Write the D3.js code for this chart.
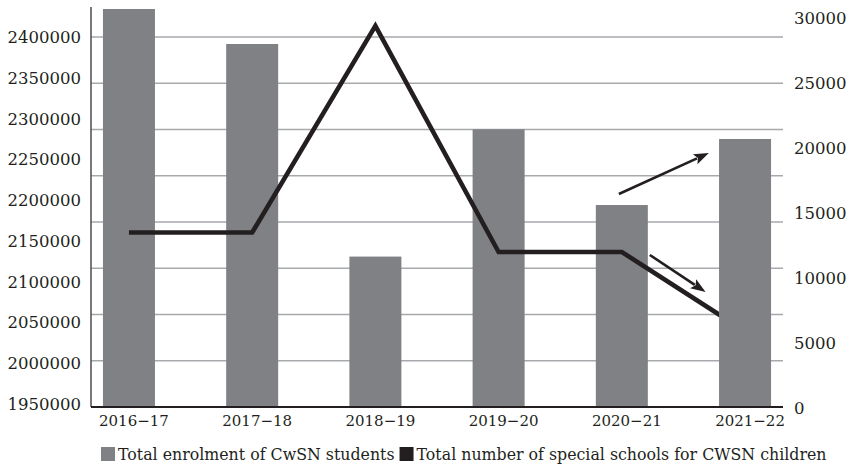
<!DOCTYPE html>
<html>
<head>
<meta charset="utf-8">
<script src="https://cdn.jsdelivr.net/npm/d3@7/dist/d3.min.js"></script>
<style>
  html, body { margin: 0; padding: 0; background: #fff; }
  svg { display: block; }
  text { font-family: "DejaVu Serif", "Liberation Serif", serif; fill: #231f20; }
</style>
</head>
<body>
<svg id="chart" width="850" height="466"></svg>
<script>
// School years on the x axis
const categories = ["2016\u221217", "2017\u221218", "2018\u221219", "2019\u221220", "2020\u221221", "2021\u221222"];
// Total enrolment of CwSN students (left axis)
const enrolment = [2435000, 2392000, 2131000, 2287300, 2194300, 2275400];
// Total number of special schools for CWSN children (right axis)
const specialSchools = [13500, 13500, 29400, 12000, 12000, 5900];
// Axis tick labels
const leftTicks = [1950000, 2000000, 2050000, 2100000, 2150000, 2200000, 2250000, 2300000, 2350000, 2400000];
const rightTicks = [0, 5000, 10000, 15000, 20000, 25000, 30000];
// Horizontal grid divisions
const gridDivisions = [0, 1, 2, 3, 4, 5, 6, 7, 8];
// Trend arrows: [category position, special-school count]
const trendArrows = [
  { from: [3.976, 16460], to: [4.706, 19615] },
  { from: [4.227, 11770], to: [4.680, 8923] }
];
const legendItems = [
  { label: "Total enrolment of CwSN students", color: "#808184" },
  { label: "Total number of special schools for CWSN children", color: "#231f20" }
];

const svg = d3.select("#chart");
const margin = { top: 7, left: 91, right: 67, bottom: 59 };
const W = 850, H = 466;
const innerW = W - margin.left - margin.right;   // 692
const innerH = H - margin.top - margin.bottom;   // 400

const g = svg.append("g").attr("transform", `translate(${margin.left},${margin.top})`);

const x = d3.scaleBand().domain(categories).range([0, innerW])
  .paddingInner(0.578).paddingOuter(0.097);
const xc = i => x(categories[0]) + x.bandwidth() / 2 + i * x.step();

const yLeft = d3.scaleLinear().domain([1950000, 2400000]).range([397, 30.5]);
const yRight = d3.scaleLinear().domain([0, 30000]).range([401, 11]);
const yGrid = d3.scaleLinear().domain([0, 8]).range([innerH, 30]);

// gridlines
g.append("g").selectAll("line").data(gridDivisions.slice(1)).join("line")
  .attr("x1", 0).attr("x2", innerW)
  .attr("y1", d => yGrid(d)).attr("y2", d => yGrid(d))
  .attr("stroke", "#a7a9ac").attr("stroke-width", 1.4);

// bars, line, with the latest year's bar in front
const marks = g.append("g");
marks.selectAll("rect.bar").data(enrolment).join("rect")
  .attr("class", "bar")
  .attr("x", (d, i) => x(categories[i]))
  .attr("width", x.bandwidth())
  .attr("y", d => yLeft(d))
  .attr("height", d => innerH - yLeft(d))
  .attr("fill", "#808184");

const line = d3.line()
  .x((d, i) => x(categories[i]) + x.bandwidth() / 2)
  .y(d => yRight(d));
marks.append("path")
  .attr("d", line(specialSchools))
  .attr("fill", "none")
  .attr("stroke", "#231f20")
  .attr("stroke-width", 4.6)
  .attr("stroke-linejoin", "miter");

marks.selectAll("rect.bar").filter((d, i) => i === categories.length - 1).raise();

// trend arrows
const arrows = g.append("g");
trendArrows.forEach(a => {
  const x1 = xc(a.from[0]), y1 = yRight(a.from[1]);
  const x2 = xc(a.to[0]), y2 = yRight(a.to[1]);
  const ang = Math.atan2(y2 - y1, x2 - x1);
  const headLen = 15, headHalf = 5.5;
  const bx = x2 - headLen * Math.cos(ang), by = y2 - headLen * Math.sin(ang);
  arrows.append("line")
    .attr("x1", x1).attr("y1", y1).attr("x2", bx + 2 * Math.cos(ang)).attr("y2", by + 2 * Math.sin(ang))
    .attr("stroke", "#231f20").attr("stroke-width", 2.6);
  const px = -Math.sin(ang), py = Math.cos(ang);
  arrows.append("path")
    .attr("d", `M${x2},${y2}L${bx + headHalf * px},${by + headHalf * py}L${bx + 3 * Math.cos(ang)},${by + 3 * Math.sin(ang)}L${bx - headHalf * px},${by - headHalf * py}Z`)
    .attr("fill", "#231f20");
});

// axes
const fmt = d3.format("d");
const axisL = g.append("g").call(d3.axisLeft(yLeft).tickValues(leftTicks).tickFormat(fmt).tickSize(0).tickPadding(10));
axisL.select(".domain").remove();
axisL.selectAll("text").style("font-size", "16.5px").attr("fill", "#231f20");

const axisR = g.append("g").attr("transform", `translate(${innerW},0)`)
  .call(d3.axisRight(yRight).tickValues(rightTicks).tickFormat(fmt).tickSize(0).tickPadding(11));
axisR.select(".domain").remove();
axisR.selectAll("text").style("font-size", "16.5px").attr("fill", "#231f20");

const axisB = g.append("g").attr("transform", `translate(0,${innerH})`)
  .call(d3.axisBottom(x).tickSize(0).tickPadding(8));
axisB.select(".domain").remove();
axisB.selectAll("text").attr("dx", 5).style("font-size", "15px").attr("fill", "#231f20");

g.append("line").attr("x1", 0).attr("x2", 0).attr("y1", 0).attr("y2", innerH)
  .attr("stroke", "#4d4d4f").attr("stroke-width", 1.5);
g.append("line").attr("x1", 0).attr("x2", innerW).attr("y1", innerH).attr("y2", innerH)
  .attr("stroke", "#231f20").attr("stroke-width", 1.8);

// legend
const legend = svg.append("g").attr("transform", "translate(101,447)");
let lx = 0;
legendItems.forEach(item => {
  const it = legend.append("g").attr("transform", `translate(${lx},0)`);
  it.append("rect").attr("width", 14).attr("height", 14).attr("fill", item.color);
  const t = it.append("text").attr("x", 17).attr("y", 13)
    .style("font-size", "15.8px").text(item.label);
  lx += 17 + t.node().getComputedTextLength() + 5;
});
</script>
</body>
</html>
